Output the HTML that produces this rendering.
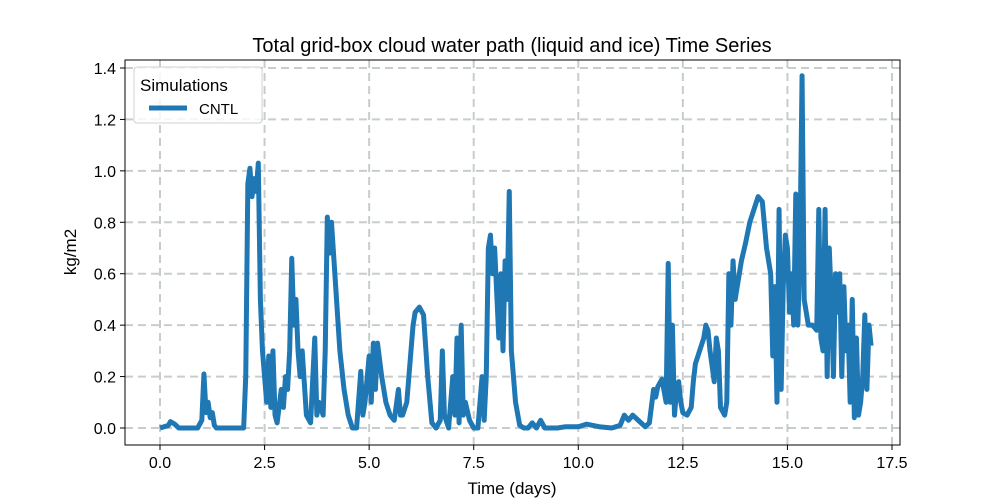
<!DOCTYPE html>
<html><head><meta charset="utf-8"><style>body{margin:0;background:#fff}svg{display:block;font-family:"Liberation Sans","DejaVu Sans",sans-serif}</style></head>
<body>
<svg id="chart" width="1000" height="500"></svg>
<script>
const times=[0,0.2,0.25,0.35,0.45,0.9,1.0,1.05,1.1,1.15,1.2,1.25,1.3,1.35,2.0,2.05,2.1,2.15,2.2,2.25,2.3,2.35,2.4,2.45,2.55,2.6,2.65,2.7,2.75,2.8,2.9,2.95,3.0,3.05,3.1,3.15,3.2,3.25,3.3,3.35,3.4,3.5,3.6,3.7,3.75,3.8,3.9,3.95,4.0,4.05,4.1,4.2,4.3,4.4,4.5,4.6,4.7,4.8,4.85,4.9,5.0,5.05,5.1,5.15,5.2,5.3,5.4,5.5,5.6,5.7,5.75,5.8,5.9,5.95,6.0,6.05,6.1,6.2,6.3,6.4,6.5,6.6,6.7,6.75,6.8,6.9,7.0,7.05,7.1,7.15,7.2,7.25,7.3,7.4,7.5,7.6,7.7,7.75,7.8,7.85,7.9,7.95,8.0,8.1,8.15,8.2,8.25,8.3,8.35,8.4,8.5,8.6,8.7,8.8,8.9,9.0,9.1,9.2,9.5,9.7,10.0,10.2,10.5,10.8,11.0,11.1,11.2,11.3,11.4,11.5,11.6,11.7,11.8,11.85,11.9,12.0,12.1,12.15,12.2,12.25,12.3,12.35,12.4,12.45,12.5,12.6,12.7,12.75,12.8,12.9,13.0,13.05,13.1,13.15,13.25,13.3,13.35,13.4,13.5,13.55,13.6,13.65,13.7,13.75,13.8,13.9,14.0,14.1,14.2,14.3,14.4,14.5,14.6,14.65,14.7,14.75,14.8,14.85,14.9,14.95,15.0,15.05,15.1,15.15,15.2,15.25,15.3,15.35,15.4,15.5,15.6,15.7,15.75,15.8,15.85,15.9,15.95,16.0,16.05,16.1,16.15,16.2,16.25,16.3,16.35,16.4,16.45,16.5,16.55,16.6,16.65,16.7,16.75,16.8,16.85,16.9,16.95,17.0];
const cntl=[0,0.01,0.025,0.015,0,0,0.03,0.21,0.06,0.1,0.04,0.06,0.01,0,0,0.2,0.95,1.01,0.9,0.97,0.92,1.03,0.5,0.3,0.1,0.28,0.08,0.3,0.05,0.02,0.15,0.08,0.2,0.15,0.3,0.66,0.4,0.5,0.3,0.2,0.3,0.05,0.02,0.35,0.05,0.1,0.05,0.3,0.82,0.68,0.8,0.55,0.3,0.15,0.05,0,0,0.22,0.05,0.1,0.28,0.1,0.33,0.15,0.33,0.2,0.1,0.05,0.03,0.15,0.05,0.05,0.1,0.2,0.3,0.4,0.45,0.47,0.44,0.2,0.02,0,0.03,0.3,0.05,0,0.2,0.05,0.35,0.02,0.4,0.05,0.1,0.03,0,0,0.2,0.03,0.2,0.7,0.75,0.6,0.7,0.35,0.6,0.3,0.65,0.5,0.92,0.3,0.1,0.01,0,0,0.02,0,0.03,0,0,0.005,0.005,0.015,0.005,0,0.01,0.05,0.03,0.05,0.035,0.02,0.005,0.02,0.15,0.12,0.16,0.19,0.1,0.64,0.1,0.4,0.05,0.15,0.18,0.1,0.06,0.05,0.08,0.18,0.25,0.3,0.35,0.4,0.38,0.3,0.18,0.35,0.3,0.08,0.05,0.1,0.6,0.4,0.65,0.5,0.55,0.65,0.72,0.8,0.85,0.9,0.88,0.7,0.6,0.28,0.55,0.1,0.85,0.15,0.55,0.75,0.7,0.45,0.6,0.4,0.91,0.4,0.7,1.37,0.5,0.4,0.4,0.38,0.85,0.35,0.3,0.85,0.2,0.7,0.5,0.2,0.6,0.45,0.6,0.2,0.55,0.3,0.4,0.1,0.5,0.04,0.35,0.05,0.1,0.2,0.44,0.15,0.4,0.32];
const xTicks=[0,2.5,5,7.5,10,12.5,15,17.5];
const yTicks=[0,0.2,0.4,0.6,0.8,1.0,1.2,1.4];
const xTickLabels=["0.0","2.5","5.0","7.5","10.0","12.5","15.0","17.5"];
const yTickLabels=["0.0","0.2","0.4","0.6","0.8","1.0","1.2","1.4"];

const NS="http://www.w3.org/2000/svg";
const svg=document.getElementById('chart');
const L=125,R=900,T=60,B=445;
const x=t=>160+t*(892-160)/17.5;
const y=v=>428-v*(428-68)/1.4;
function mk(tag,attrs,parent){const e=document.createElementNS(NS,tag);for(const k in attrs)e.setAttribute(k,attrs[k]);(parent||svg).appendChild(e);return e;}

const grid=mk('g',{});


xTicks.forEach((t,i)=>{
  const g=mk('line',{x1:x(t),x2:x(t),y1:T,y2:B,stroke:'#b0b8b8','stroke-width':2,'stroke-dasharray':'8,5',opacity:0.7},grid);
  const tk=mk('line',{x1:x(t),x2:x(t),y1:B,y2:B+5,stroke:'#000','stroke-width':1});
  const lb=mk('text',{x:x(t),y:B+23,'text-anchor':'middle','font-size':16});
  lb.textContent=xTickLabels[i];
  
  
});
yTicks.forEach((v,i)=>{
  mk('line',{x1:L,x2:R,y1:y(v),y2:y(v),stroke:'#b0b8b8','stroke-width':2,'stroke-dasharray':'8,5',opacity:0.7},grid);
  mk('line',{x1:L-5,x2:L,y1:y(v),y2:y(v),stroke:'#000','stroke-width':1});
  const lb=mk('text',{x:L-9,y:y(v)+6,'text-anchor':'end','font-size':16});
  lb.textContent=yTickLabels[i];
  
  
});
const line=mk('polyline',{points:times.map((t,i)=>x(t)+','+y(cntl[i])).join(' '),fill:'none',stroke:'#1f77b4','stroke-width':5,'stroke-linejoin':'round'});


const frame=mk('rect',{x:L,y:T,width:R-L,height:B-T,fill:'none',stroke:'#000','stroke-width':1});


</script>
<svg width="1000" height="500" style="position:absolute;left:0;top:0">
<text x="512" y="52" text-anchor="middle" font-size="20">Total grid-box cloud water path (liquid and ice) Time Series</text>
<text x="512" y="494" text-anchor="middle" font-size="17">Time (days)</text>
<text transform="translate(76,252) rotate(-90)" text-anchor="middle" font-size="17">kg/m2</text>
<g>
<rect x="134" y="67" width="128" height="56" rx="3" fill="#fff" fill-opacity="0.8" stroke="#d0d0d0"/>
<text x="140" y="91" font-size="17">Simulations</text>
<line x1="149" y1="108" x2="187" y2="108" stroke="#1f77b4" stroke-width="5"/>
<text x="199" y="114" font-size="15">CNTL</text>
</g>
</svg>
</body></html>
